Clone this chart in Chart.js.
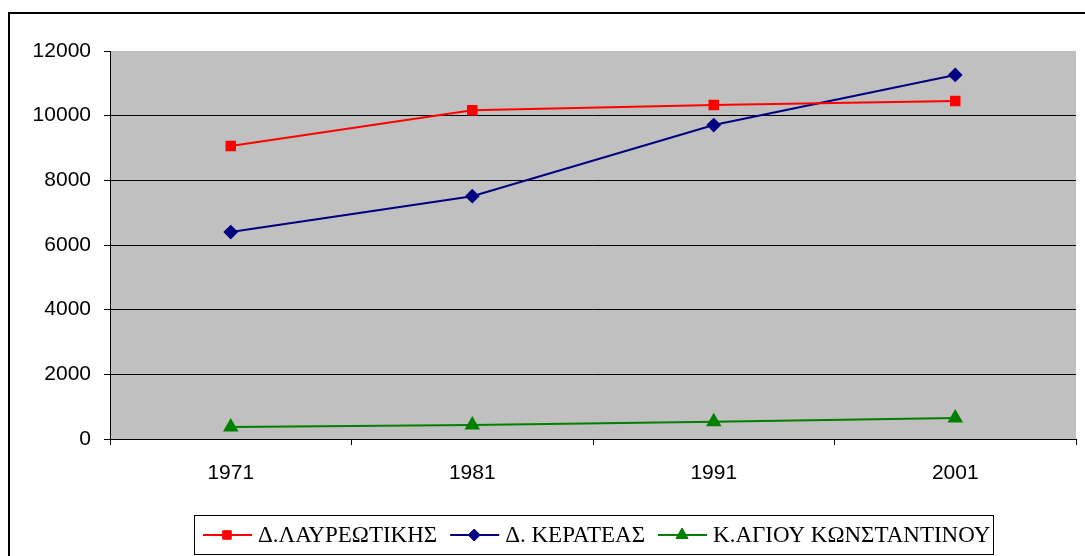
<!DOCTYPE html>
<html>
<head>
<meta charset="utf-8">
<script src="https://cdn.jsdelivr.net/npm/chart.js@4"></script>
<style>
  html, body { margin: 0; padding: 0; background: #fff; overflow: hidden; }
  #wrap { position: relative; width: 1085px; height: 556px; }
</style>
</head>
<body>
<div id="wrap"><canvas id="lineChart"></canvas></div>
<script>
// data
const years = ['1971', '1981', '1991', '2001'];
const lavreotiki = [9060, 10170, 10330, 10450];
const keratea = [6400, 7510, 9710, 11260];
const agiosKonstantinos = [370, 430, 530, 650];
const seriesNames = ['Δ.ΛΑΥΡΕΩΤΙΚΗΣ', 'Δ. ΚΕΡΑΤΕΑΣ', 'Κ.ΑΓΙΟΥ ΚΩΝΣΤΑΝΤΙΝΟΥ'];
const yMax = 12000;
const yStep = 2000;

// gray plot area + outer frame + boxed legend (line through marker, like Excel)
const excelLook = {
    id: 'excelLook',
    beforeDraw(chart) {
        const { ctx, chartArea: a } = chart;
        ctx.save();
        ctx.fillStyle = '#fff';
        ctx.fillRect(0, 0, chart.width, chart.height);
        ctx.fillStyle = '#c0c0c0';
        ctx.fillRect(a.left, a.top, a.right - a.left, a.bottom - a.top);
        ctx.restore();
    },
    afterDraw(chart) {
        const ctx = chart.ctx;
        ctx.save();
        // outer frame, runs off the right and bottom edges
        ctx.strokeStyle = '#000';
        ctx.lineWidth = 2;
        ctx.strokeRect(9, 13, chart.width + 20, chart.height + 20);

        // legend box
        const box = { x: 194.5, y: 515.5, w: 799, h: 39 };
        ctx.lineWidth = 1;
        ctx.strokeRect(box.x, box.y, box.w, box.h);
        ctx.font = '23px "Liberation Serif", "DejaVu Serif", serif';
        ctx.textBaseline = 'middle';
        const cy = 535;
        let x = 203;
        chart.data.datasets.forEach(ds => {
            ctx.strokeStyle = ds.borderColor;
            ctx.lineWidth = 2;
            ctx.beginPath();
            ctx.moveTo(x, cy);
            ctx.lineTo(x + 49, cy);
            ctx.stroke();
            ctx.fillStyle = ds.pointBackgroundColor;
            ctx.lineWidth = 1;
            Chart.helpers.drawPoint(ctx, {
                pointStyle: ds.pointStyle,
                radius: ds.pointRadius,
                borderWidth: 1
            }, x + 24, cy);
            ctx.fillStyle = '#000';
            const tx = x + 55;
            ctx.fillText(ds.label, tx, cy + 1);
            x = tx + ctx.measureText(ds.label).width + 13;
        });
        ctx.restore();
    }
};

const ctx = document.getElementById('lineChart').getContext('2d');
const tickFont = { family: '"Liberation Sans", Arial, sans-serif', size: 21 };

const lineChart = new Chart(ctx, {
    type: 'line',
    data: {
        labels: years,
        datasets: [
            {
                label: seriesNames[0],
                data: lavreotiki,
                borderColor: '#ff0000',
                backgroundColor: '#ff0000',
                pointBackgroundColor: '#ff0000',
                pointBorderColor: '#ff0000',
                pointStyle: 'rect',
                pointRadius: 6,
                borderWidth: 2
            },
            {
                label: seriesNames[1],
                data: keratea,
                borderColor: '#000080',
                backgroundColor: '#000080',
                pointBackgroundColor: '#000080',
                pointBorderColor: '#000080',
                pointStyle: 'rectRot',
                pointRadius: 6,
                borderWidth: 2
            },
            {
                label: seriesNames[2],
                data: agiosKonstantinos,
                borderColor: '#008000',
                backgroundColor: '#008000',
                pointBackgroundColor: '#008000',
                pointBorderColor: '#008000',
                pointStyle: 'triangle',
                pointRadius: 7,
                borderWidth: 2
            }
        ]
    },
    options: {
        responsive: true,
        maintainAspectRatio: false,
        animation: false,
        layout: { padding: { top: 51, right: 5, left: 0, bottom: 67 } },
        plugins: {
            legend: { display: false },
            tooltip: { enabled: false }
        },
        elements: { line: { tension: 0 } },
        scales: {
            x: {
                offset: true,
                grid: {
                    offset: true,
                    drawOnChartArea: false,
                    tickLength: 6,
                    tickColor: '#000'
                },
                border: { color: '#000', width: 1 },
                ticks: {
                    color: '#000',
                    padding: 16,
                    font: tickFont
                },
                afterFit(scale) { scale.height = 50; }
            },
            y: {
                min: 0,
                max: yMax,
                grid: {
                    color: c => (c.tick && c.tick.value === yMax) ? 'rgba(0,0,0,0)' : '#000',
                    tickColor: '#000',
                    tickLength: 6,
                    lineWidth: 1
                },
                border: { color: '#000', width: 1 },
                ticks: {
                    stepSize: yStep,
                    color: '#000',
                    padding: 13,
                    font: tickFont,
                    callback: v => String(v)
                },
                afterFit(scale) { scale.width = 110; }
            }
        }
    },
    plugins: [excelLook]
});
</script>
</body>
</html>
